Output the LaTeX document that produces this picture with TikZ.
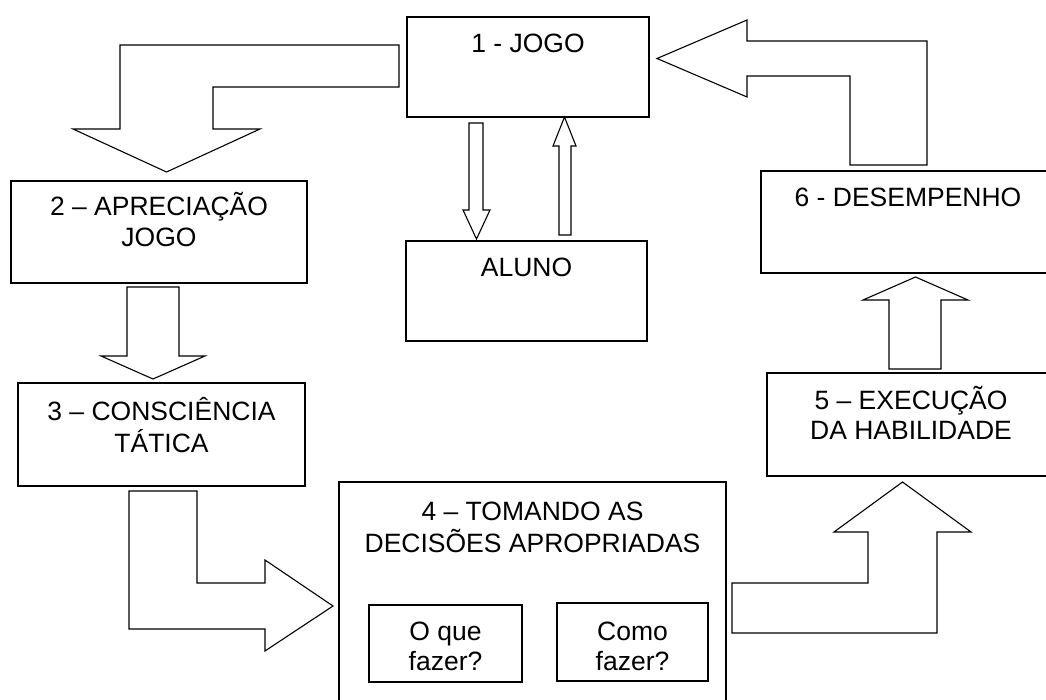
\documentclass[tikz,border=0pt]{standalone}
\usepackage{fontspec}
\setmainfont{Liberation Sans}
\newcommand{\twoln}[2]{\begin{tabular}[t]{@{}c@{}}#1\\#2\end{tabular}}
\begin{document}
\begin{tikzpicture}[x=1pt,y=-1pt,
  line width=1.1pt, line join=miter,
  box/.style={draw=black, rectangle, inner sep=0pt, line width=1.1pt},
  lbl/.style={anchor=base, inner sep=0pt, font=\fontsize{26.5}{30.5}\selectfont},
  blk/.style={draw=black, fill=white, line width=1.1pt}]
\useasboundingbox (0,0) rectangle (1046,700);
\clip (0,0) rectangle (1046,700);
\fill[white] (0,0) rectangle (1046,700);

% boxes
\node[box, minimum width=242pt, minimum height=100pt] (b1) at (528,67) {};
\node[box, minimum width=241pt, minimum height=100pt] (al) at (526.5,291) {};
\node[box, minimum width=296pt, minimum height=102pt] (b2) at (159,232) {};
\node[box, minimum width=287pt, minimum height=103pt] (b3) at (161.5,434.5) {};
\node[box, minimum width=387pt, minimum height=223pt] (b4) at (532.5,593.5) {};
\node[box, minimum width=153pt, minimum height=77pt] (oq) at (445.5,643.5) {};
\node[box, minimum width=151pt, minimum height=78pt] (cf) at (632.5,642) {};
\node[box, minimum width=288pt, minimum height=103pt] (b5) at (911,424.5) {};
\node[box, minimum width=294pt, minimum height=102pt] (b6) at (908,222) {};

% texts
\node[lbl] (t1) at (528,53) {1 - JOGO};
\node[lbl] (tal) at (526.5,277) {ALUNO};
\node[lbl] (t2) at (159,216) {\twoln{2 – APRECIAÇÃO}{JOGO}};
\node[lbl] (t3) at (161.5,420) {\twoln{3 – CONSCIÊNCIA}{TÁTICA}};
\node[lbl] (t4) at (532.5,520) {\twoln{4 – TOMANDO AS}{DECISÕES APROPRIADAS}};
\node[lbl] (toq) at (445.5,640) {\twoln{O que}{fazer?}};
\node[lbl] (tcf) at (632.5,640) {\twoln{Como}{fazer?}};
\node[lbl] (t5) at (911,409) {\twoln{5 – EXECUÇÃO}{DA HABILIDADE}};
\node[lbl] (t6) at (908,207) {6 - DESEMPENHO};

% block arrows
% 1 -> 2
\draw[blk] (399,45) -- (120,45) -- (120,129) -- (73,129) -- (166.5,172) -- (260,129) -- (213,129) -- (213,87) -- (399,87) -- cycle;
% 2 -> 3
\draw[blk] (127,287) -- (179,287) -- (179,356) -- (205,356) -- (153,379) -- (101,356) -- (127,356) -- cycle;
% 3 -> 4
\draw[blk] (129,491) -- (197,491) -- (197,583) -- (265,583) -- (265,560) -- (333,606) -- (265,651) -- (265,629) -- (129,629) -- cycle;
% 4 -> 5
\draw[blk] (732,583) -- (868,583) -- (868,532) -- (834,532) -- (902.5,482) -- (971,532) -- (937,532) -- (937,633) -- (732,633) -- cycle;
% 5 -> 6
\draw[blk] (889,369) -- (889,300) -- (863,300) -- (915.5,277) -- (968,300) -- (941,300) -- (941,369) -- cycle;
% 6 -> 1
\draw[blk] (657,58.5) -- (747,20) -- (747,41) -- (927,41) -- (927,165) -- (850,165) -- (850,76) -- (747,76) -- (747,97) -- cycle;
% 1 -> aluno
\draw[blk] (469,123) -- (483,123) -- (483,210) -- (490,210) -- (476.5,239) -- (463,210) -- (469,210) -- cycle;
% aluno -> 1
\draw[blk] (559,235) -- (559,146) -- (553,146) -- (564.5,117) -- (576,146) -- (571,146) -- (571,235) -- cycle;
\end{tikzpicture}
\end{document}
